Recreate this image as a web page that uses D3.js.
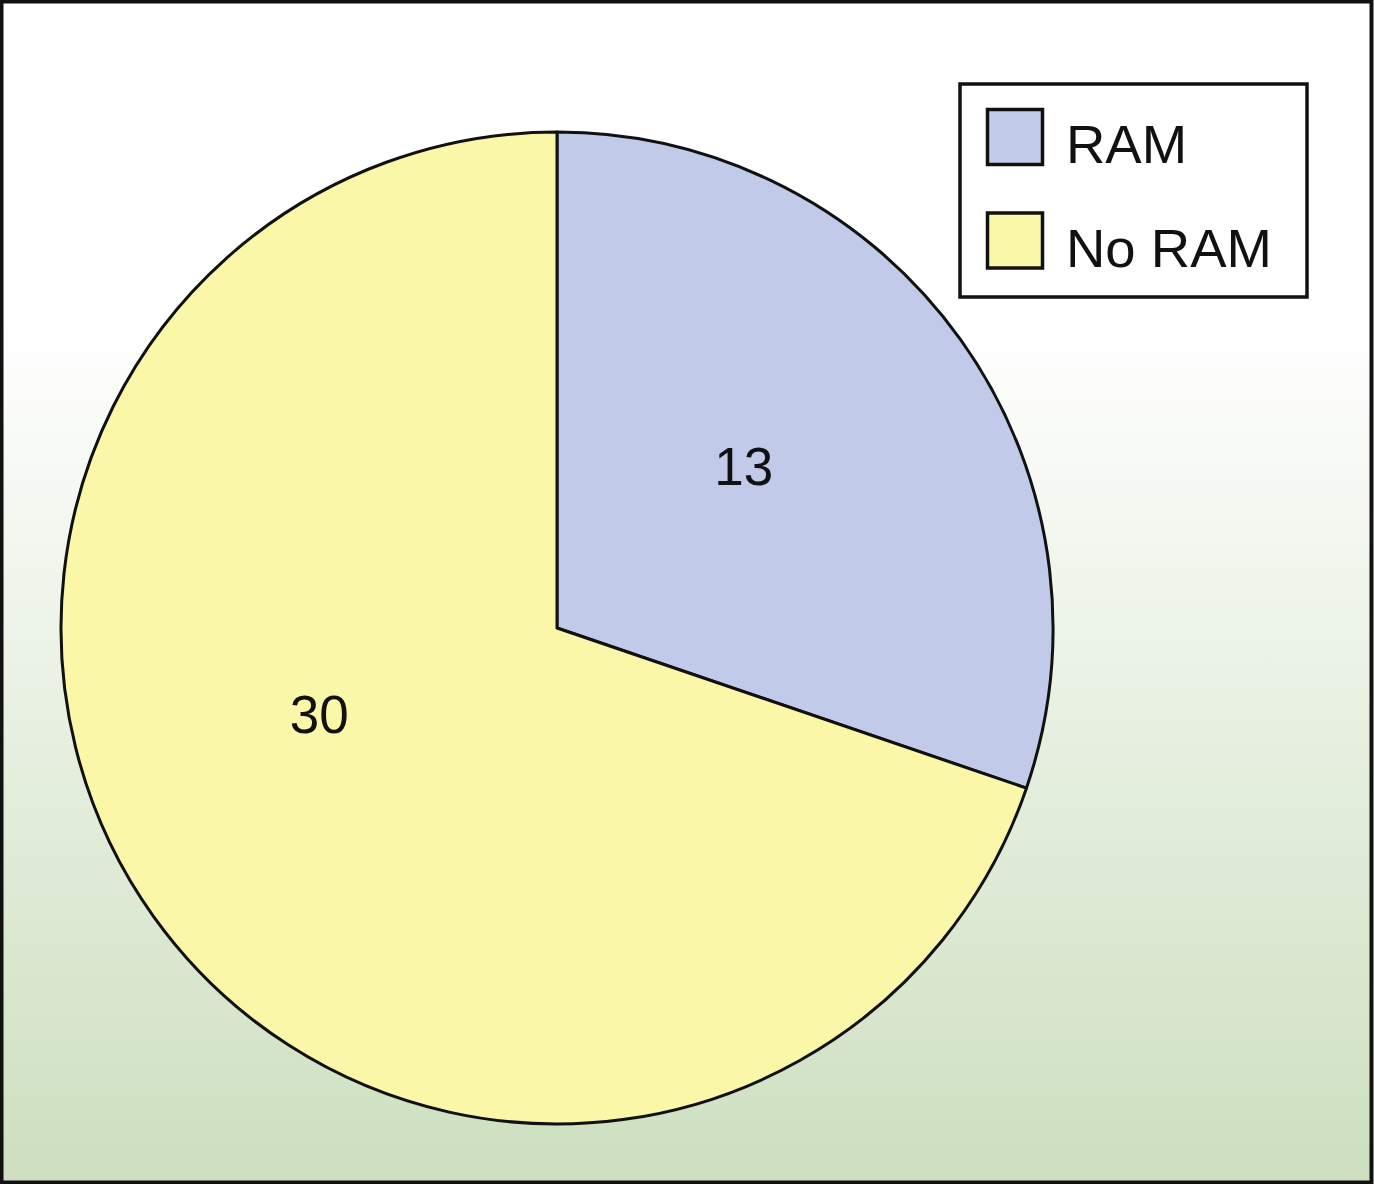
<!DOCTYPE html>
<html>
<head>
<meta charset="utf-8">
<script src="https://cdn.jsdelivr.net/npm/d3@7"></script>
<style>
  html, body { margin: 0; padding: 0; background: #fff; }
  svg { display: block; font-family: "Liberation Sans", Arial, sans-serif; }
</style>
</head>
<body>
<svg id="pieChart" width="1374" height="1184"></svg>
<script>
// chart data
const categories = ['RAM', 'No RAM'];
const counts = [13, 30];
const sliceColors = ['#c1cae8', '#faf7a9'];

const svg = d3.select('#pieChart');
const width = 1374, height = 1184;

// background gradient, white at top to pale green at bottom
const defs = svg.append('defs');
const grad = defs.append('linearGradient')
    .attr('id', 'bg')
    .attr('x1', 0).attr('y1', 0).attr('x2', 0).attr('y2', 1);
grad.append('stop').attr('offset', '0%').attr('stop-color', '#ffffff');
grad.append('stop').attr('offset', '27%').attr('stop-color', '#ffffff');
grad.append('stop').attr('offset', '100%').attr('stop-color', '#cddfbf');

svg.append('rect')
    .attr('x', 1.5).attr('y', 1.5)
    .attr('width', width - 4).attr('height', height - 3)
    .attr('fill', 'url(#bg)')
    .attr('stroke', '#111')
    .attr('stroke-width', 4);

const cx = 557, cy = 628, radius = 496;

const pie = d3.pie().sort(null).value(d => d.value);
const arcs = pie(categories.map((c, i) => ({ name: c, value: counts[i] })));

const arc = d3.arc().innerRadius(0).outerRadius(radius);
const labelArc = d3.arc().innerRadius(radius / 2).outerRadius(radius / 2);
// small hand nudges so labels sit where the original puts them
const labelNudge = [[-15, -17], [-36, -58]];

const g = svg.append('g').attr('transform', `translate(${cx},${cy})`);

g.selectAll('path.slice')
    .data(arcs)
    .enter().append('path')
    .attr('class', 'slice')
    .attr('d', arc)
    .attr('fill', (d, i) => sliceColors[i])
    .attr('stroke', '#111')
    .attr('stroke-width', 3)
    .attr('stroke-linejoin', 'round');

g.selectAll('text.val')
    .data(arcs)
    .enter().append('text')
    .attr('class', 'val')
    .attr('x', (d, i) => labelArc.centroid(d)[0] + labelNudge[i][0])
    .attr('y', (d, i) => labelArc.centroid(d)[1] + labelNudge[i][1])
    .attr('dy', '0.35em')
    .attr('text-anchor', 'middle')
    .attr('font-size', 53)
    .attr('fill', '#111')
    .text(d => d.data.value);

// legend
const legend = svg.append('g').attr('transform', 'translate(960,84)');
legend.append('rect')
    .attr('width', 347).attr('height', 213)
    .attr('fill', '#fff')
    .attr('stroke', '#111')
    .attr('stroke-width', 3.5);

const rowY = d3.scaleBand().domain(categories).range([0, 213]).padding(0);

const items = legend.selectAll('g.item')
    .data(categories)
    .enter().append('g')
    .attr('class', 'item')
    .attr('transform', d => `translate(0,${rowY(d)})`);

items.append('rect')
    .attr('x', 27.5)
    .attr('y', (d, i) => i === 0 ? 25.5 : 22.5)
    .attr('width', 55).attr('height', 55)
    .attr('fill', (d, i) => sliceColors[i])
    .attr('stroke', '#111')
    .attr('stroke-width', 3.5);

items.append('text')
    .attr('x', 106)
    .attr('y', (d, i) => i === 0 ? 79 : 76)
    .attr('font-size', 54.5)
    .attr('fill', '#111')
    .text(d => d);
</script>
</body>
</html>
